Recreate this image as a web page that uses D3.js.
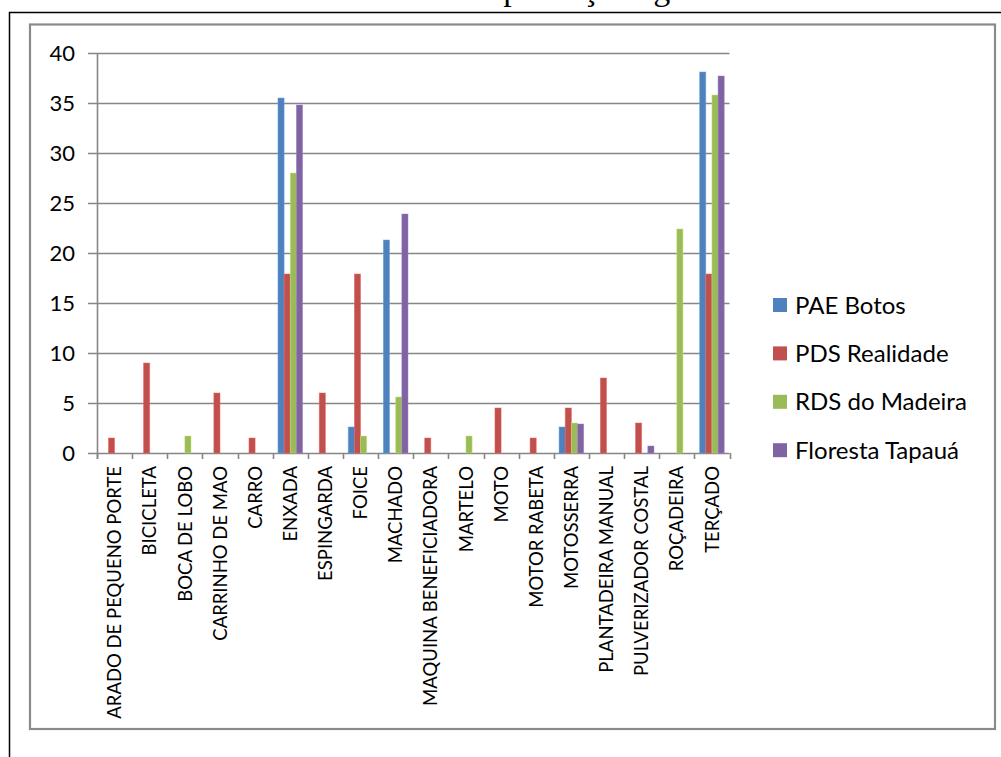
<!DOCTYPE html>
<html>
<head>
<meta charset="utf-8">
<script src="https://cdn.jsdelivr.net/npm/d3@7"></script>
<style>
  body { margin: 0; background: #fff; }
  svg { display: block; }
</style>
</head>
<body>
<div id="chart"></div>
<script>
// tools used in production, share of households per settlement (%)
var categories = ["ARADO DE PEQUENO PORTE", "BICICLETA", "BOCA DE LOBO", "CARRINHO DE MAO",
  "CARRO", "ENXADA", "ESPINGARDA", "FOICE", "MACHADO", "MAQUINA BENEFICIADORA", "MARTELO",
  "MOTO", "MOTOR RABETA", "MOTOSSERRA", "PLANTADEIRA MANUAL", "PULVERIZADOR COSTAL",
  "ROÇADEIRA", "TERÇADO"];
var seriesNames = ["PAE Botos", "PDS Realidade", "RDS do Madeira", "Floresta Tapauá"];
var paeBotos       = [0, 0, 0, 0, 0, 35.5, 0, 2.6, 21.3, 0, 0, 0, 0, 2.6, 0, 0, 0, 38.1];
var pdsRealidade   = [1.5, 9, 0, 6, 1.5, 17.9, 6, 17.9, 0, 1.5, 0, 4.5, 1.5, 4.5, 7.5, 3, 0, 17.9];
var rdsMadeira     = [0, 0, 1.7, 0, 0, 28, 0, 1.7, 5.6, 0, 1.7, 0, 0, 3.0, 0, 0, 22.4, 35.8];
var florestaTapaua = [0, 0, 0, 0, 0, 34.8, 0, 0, 23.9, 0, 0, 0, 0, 2.9, 0, 0.7, 0, 37.7];
var yTicks = [0, 5, 10, 15, 20, 25, 30, 35, 40];
var colors = ["#4F81BD", "#C0504D", "#9BBB59", "#8064A2"];

var allSeries = [paeBotos, pdsRealidade, rdsMadeira, florestaTapaua];

var width = 1001, height = 757;
var margin = {top: 53, left: 97, right: 271, bottom: 304};

var svg = d3.select("#chart").append("svg")
  .attr("width", width)
  .attr("height", height);

// caption above the frame, cut off by the page top (only descenders show)
svg.append("text")
  .attr("x", 286).attr("y", -0.5)
  .style("font-family", "'Liberation Serif', 'Times New Roman', serif")
  .style("font-size", "34px")
  .text("Ferramentas na produção agrícola");

// outer black frame (runs off the page)
svg.append("rect")
  .attr("x", 9.5).attr("y", 12.5)
  .attr("width", 1100).attr("height", 900)
  .attr("fill", "none").attr("stroke", "#000").attr("stroke-width", 1.5);

// chart area border
svg.append("rect")
  .attr("x", 30).attr("y", 24.5)
  .attr("width", 965).attr("height", 704.5)
  .attr("fill", "#fff").attr("stroke", "#8a8a8a").attr("stroke-width", 2.2);

var x0 = d3.scaleBand()
  .domain(categories)
  .range([margin.left, width - margin.right - 0.5])
  .paddingInner(0.3)
  .paddingOuter(0.15);

var x1 = d3.scaleBand()
  .domain(d3.range(seriesNames.length))
  .range([0, x0.bandwidth()]);

var y = d3.scaleLinear()
  .domain([0, 40])
  .range([height - margin.bottom, margin.top]);

var step = x0.step();
var plotLeft = margin.left, plotRight = margin.left + step * categories.length;

// gridlines
svg.append("g")
  .selectAll("line")
  .data(yTicks)
  .enter().append("line")
  .attr("x1", plotLeft - 9).attr("x2", plotRight)
  .attr("y1", function(d) { return Math.round(y(d)) + 0.5; })
  .attr("y2", function(d) { return Math.round(y(d)) + 0.5; })
  .attr("stroke", "#868686").attr("stroke-width", 1.6);

// y axis labels
svg.append("g")
  .selectAll("text")
  .data(yTicks)
  .enter().append("text")
  .attr("x", 75)
  .attr("y", function(d) { return y(d); })
  .attr("dy", "0.36em")
  .attr("text-anchor", "end")
  .style("font-family", "Lato, 'Open Sans', sans-serif")
  .style("font-size", "22px")
  .text(function(d) { return d; });

// bars
var groups = svg.append("g")
  .selectAll("g")
  .data(categories)
  .enter().append("g")
  .attr("transform", function(d) { return "translate(" + x0(d) + ",0)"; });

groups.selectAll("rect")
  .data(function(d, i) {
    return allSeries.map(function(s, k) { return {k: k, v: s[i]}; });
  })
  .enter().append("rect")
  .filter(function(d) { return d.v > 0; })
  .attr("x", function(d) { return x1(d.k); })
  .attr("width", x1.bandwidth())
  .attr("y", function(d) { return y(d.v); })
  .attr("height", function(d) { return y(0) - y(d.v); })
  .attr("fill", function(d) { return colors[d.k]; })
  .attr("stroke", function(d) { return d3.color(colors[d.k]).brighter(0.6); })
  .attr("stroke-opacity", 0.6)
  .attr("stroke-width", 0.8);

// axes lines
svg.append("line")
  .attr("x1", plotLeft + 0.5).attr("x2", plotLeft + 0.5)
  .attr("y1", y(40)).attr("y2", y(0) + 6)
  .attr("stroke", "#868686").attr("stroke-width", 1.6);

svg.append("g")
  .selectAll("line")
  .data(d3.range(categories.length + 1))
  .enter().append("line")
  .attr("x1", function(i) { return Math.round(plotLeft + i * step) + 0.5; })
  .attr("x2", function(i) { return Math.round(plotLeft + i * step) + 0.5; })
  .attr("y1", y(0)).attr("y2", y(0) + 6)
  .attr("stroke", "#868686").attr("stroke-width", 1.6);

// category labels
svg.append("g")
  .selectAll("text")
  .data(categories)
  .enter().append("text")
  .attr("transform", function(d) {
    return "translate(" + (x0(d) + x0.bandwidth() / 2) + "," + (y(0) + 13) + ") rotate(-90)";
  })
  .attr("dy", "0.36em")
  .attr("text-anchor", "end")
  .style("font-family", "Lato, 'Open Sans', sans-serif")
  .style("font-size", "18.5px")
  .text(function(d) { return d; });

// legend
var legend = svg.append("g")
  .selectAll("g")
  .data(seriesNames)
  .enter().append("g")
  .attr("transform", function(d, i) { return "translate(773," + (305 + i * 48.4) + ")"; });

legend.append("rect")
  .attr("x", 0).attr("y", -7)
  .attr("width", 14).attr("height", 14)
  .attr("fill", function(d, i) { return colors[i]; });

legend.append("text")
  .attr("x", 22)
  .attr("dy", "0.36em")
  .style("font-family", "Lato, 'Open Sans', sans-serif")
  .style("font-size", "24px")
  .text(function(d) { return d; });
</script>
</body>
</html>
